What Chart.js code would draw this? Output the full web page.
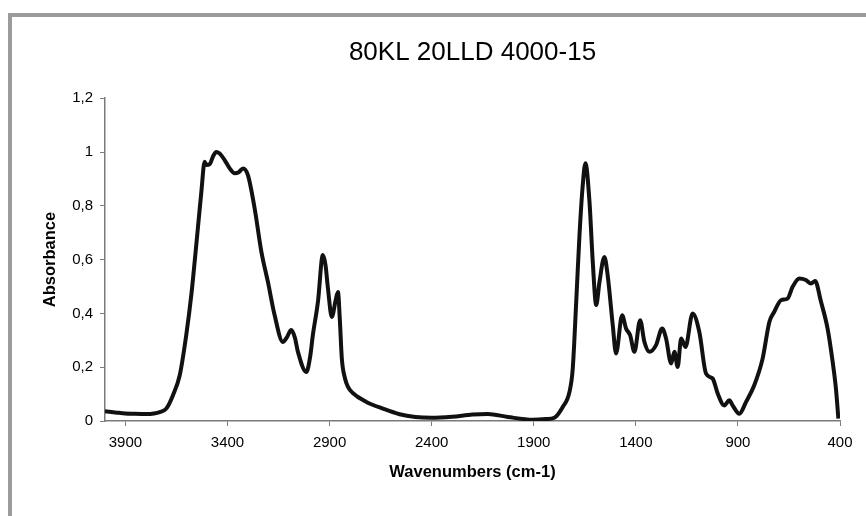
<!DOCTYPE html>
<html>
<head>
<meta charset="utf-8">
<script src="https://cdn.jsdelivr.net/npm/chart.js@4/dist/chart.umd.min.js"></script>
<style>
  body { margin: 0; background: #fff; }
  #wrap { position: relative; width: 866px; height: 516px; overflow: hidden; }
  #frame {
    position: absolute; left: 8px; top: 13px; width: 900px; height: 560px;
    border-top: 4px solid #9b9b9b; border-left: 4px solid #9b9b9b;
  }
  canvas { position: absolute; left: 0; top: 0; }
</style>
</head>
<body>
<div id="wrap">
  <div id="frame"></div>
  <canvas id="chart" width="866" height="516"></canvas>
</div>
<script>
// spectrum (wavenumber in cm-1, absorbance)
const wavenumbers = [
  4000, 3950, 3900, 3863, 3800, 3760, 3732, 3700, 3667, 3634,
  3602, 3577, 3553, 3528, 3512, 3504, 3487, 3470, 3455, 3440,
  3414, 3390, 3365, 3345, 3324, 3300, 3267, 3234, 3202, 3169,
  3129, 3110, 3088, 3070, 3055, 3014, 2995, 2982, 2957, 2933,
  2920, 2908, 2889, 2870, 2859, 2850, 2840, 2825, 2810, 2780,
  2720, 2639, 2557, 2480, 2400, 2300, 2200, 2125, 2027, 1905,
  1840, 1799, 1758, 1725, 1709, 1692, 1676, 1660, 1647, 1627,
  1611, 1594, 1578, 1554, 1538, 1513, 1497, 1467, 1448, 1428,
  1407, 1379, 1358, 1333, 1301, 1271, 1252, 1227, 1211, 1195,
  1178, 1157, 1122, 1089, 1056, 1024, 999, 967, 942, 926,
  893, 860, 820, 779, 746, 722, 689, 657, 632, 599,
  567, 542, 522, 493, 461, 436, 420, 408
];
const absorbance = [
  0.036, 0.032, 0.028, 0.027, 0.026, 0.028, 0.033, 0.046, 0.096, 0.17,
  0.32, 0.47, 0.654, 0.852, 0.964, 0.952, 0.955, 0.985, 1.0, 0.995,
  0.97, 0.94, 0.921, 0.925, 0.939, 0.914, 0.79, 0.629, 0.517, 0.393,
  0.294, 0.31, 0.338, 0.31, 0.257, 0.182, 0.24, 0.319, 0.443, 0.617,
  0.58, 0.493, 0.387, 0.45, 0.48, 0.38, 0.232, 0.16, 0.127, 0.1,
  0.071, 0.046, 0.025, 0.015, 0.012, 0.016, 0.024, 0.026, 0.015, 0.005,
  0.007, 0.012, 0.052, 0.108, 0.195, 0.443, 0.691, 0.877, 0.958, 0.815,
  0.592, 0.431, 0.517, 0.61, 0.542, 0.356, 0.251, 0.393, 0.344, 0.319,
  0.257, 0.375, 0.294, 0.257, 0.282, 0.344, 0.307, 0.214, 0.257, 0.201,
  0.307, 0.275, 0.4, 0.331, 0.176, 0.158, 0.102, 0.058, 0.077, 0.058,
  0.027, 0.071, 0.133, 0.232, 0.368, 0.406, 0.449, 0.455, 0.499, 0.53,
  0.524, 0.511, 0.52, 0.443, 0.344, 0.22, 0.121, 0.009
];

const xTicks = [3900, 3400, 2900, 2400, 1900, 1400, 900, 400];
const yTicks = [0, 0.2, 0.4, 0.6, 0.8, 1, 1.2];
const yTickLabels = ['0', '0,2', '0,4', '0,6', '0,8', '1', '1,2'];

const axisColor = '#7a7a7a';
const fontFamily = "'Liberation Sans', Arial, sans-serif";

const ctx = document.getElementById('chart');
new Chart(ctx, {
  type: 'line',
  data: {
    datasets: [
      {
        label: 'Absorbance',
        data: wavenumbers.map((w, i) => ({ x: w, y: absorbance[i] })),
        borderColor: '#111',
        borderWidth: 4,
        pointRadius: 0,
        fill: false,
        cubicInterpolationMode: 'monotone',
      },
    ],
  },
  options: {
    responsive: false,
    animation: false,
    devicePixelRatio: 1,
    layout: {
      padding: { left: 0, right: 26, top: 0, bottom: 0 },
    },
    plugins: {
      legend: { display: false },
      tooltip: { enabled: false },
      title: {
        display: true,
        text: '80KL 20LLD 4000-15',
        fullSize: false,
        color: '#000',
        font: { family: fontFamily, size: 26, weight: 'normal', lineHeight: 1.2 },
        padding: { top: 37, bottom: 30 },
      },
    },
    scales: {
      x: {
        type: 'linear',
        reverse: true,
        min: 400,
        max: 4000,
        afterBuildTicks: scale => {
          scale.ticks = xTicks.map(v => ({ value: v }));
        },
        afterFit: scale => {
          scale.height = 95;
        },
        ticks: {
          color: '#000',
          font: { family: fontFamily, size: 15 },
          padding: 8,
          maxRotation: 0,
          autoSkip: false,
          callback: v => String(v),
        },
        grid: {
          drawOnChartArea: false,
          drawTicks: true,
          tickLength: 5,
          color: axisColor,
        },
        border: { color: axisColor, width: 1.5 },
        title: {
          display: true,
          text: 'Wavenumbers (cm-1)',
          color: '#000',
          font: { family: fontFamily, size: 16.5, weight: 'bold', lineHeight: 1.2 },
          padding: { top: 0, bottom: 34 },
        },
      },
      y: {
        min: 0,
        max: 1.2,
        afterBuildTicks: scale => {
          scale.ticks = yTicks.map(v => ({ value: v }));
        },
        afterFit: scale => {
          scale.width = 105;
        },
        ticks: {
          color: '#000',
          font: { family: fontFamily, size: 15 },
          padding: 7,
          callback: (v, i) => yTickLabels[i],
        },
        grid: {
          drawOnChartArea: false,
          drawTicks: true,
          tickLength: 5,
          color: axisColor,
        },
        border: { color: axisColor, width: 1.5 },
        title: {
          display: true,
          text: 'Absorbance',
          color: '#000',
          font: { family: fontFamily, size: 16.5, weight: 'bold', lineHeight: 1.2 },
          padding: { top: 41, bottom: 0 },
        },
      },
    },
  },
});
</script>
</body>
</html>
